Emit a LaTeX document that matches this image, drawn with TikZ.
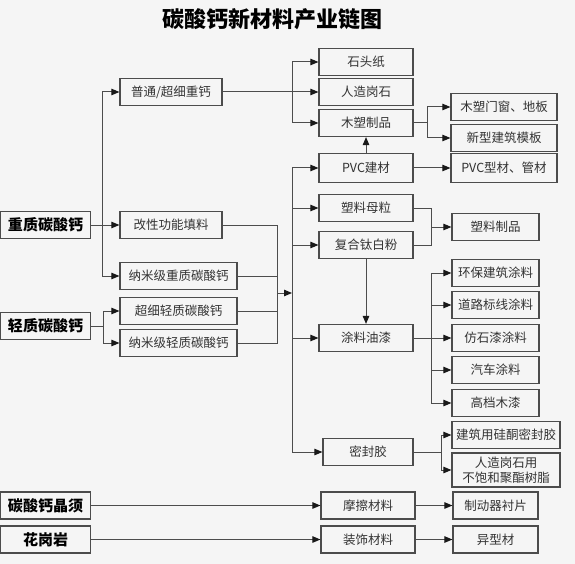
\documentclass[tikz,border=0pt]{standalone}
\usepackage{fontspec}
\setmainfont{Noto Sans CJK SC}
\usepackage{tikz}
\usetikzlibrary{arrows.meta}

\begin{document}
\begin{tikzpicture}[>={Triangle[length=8pt,width=6.5pt,color=black!90]},x=1pt,y=-1pt,line width=1pt,draw=black!70]
  \tikzstyle{item}=[draw=black!70,text=black!80,line width=1.2pt,minimum height=27pt,
                    inner sep=0pt,font=\fontsize{12.5}{15}\selectfont]
  \tikzstyle{source}=[item,text=black,minimum width=90pt,font=\fontsize{15}{17}\selectfont\bfseries]
  \tikzstyle{line}=[draw=black!70,line width=1pt]

  \fill[black!4] (0,0) rectangle (575,564);
  \useasboundingbox (0,0) rectangle (575,564);

  \node[font=\fontsize{22}{24}\selectfont\bfseries] (title) at (272,19) {碳酸钙新材料产业链图};

  % raw materials
  \node[source] (heavy)   at (45.5,225)   {重质碳酸钙};
  \node[source] (light)   at (45.5,326)   {轻质碳酸钙};
  \node[source] (whisker) at (45.5,505.5) {碳酸钙晶须};
  \node[source] (granite) at (45.5,539.5) {花岗岩};

  % grades
  \node[item,minimum width=102pt] (ordinary)   at (171,92)    {普通/超细重钙};
  \node[item,minimum width=102pt] (modified)   at (171,225)   {改性功能填料};
  \node[item,minimum width=117pt] (nanoheavy)  at (178.5,276) {纳米级重质碳酸钙};
  \node[item,minimum width=117pt] (ultralight) at (178.5,311) {超细轻质碳酸钙};
  \node[item,minimum width=117pt] (nanolight)  at (178.5,343) {纳米级轻质碳酸钙};

  % materials
  \node[item,minimum width=94pt] (paper)       at (366,62)  {石头纸};
  \node[item,minimum width=94pt] (stone)       at (366,92)  {人造岗石};
  \node[item,minimum width=94pt] (wpc)         at (366,123) {木塑制品};
  \node[item,minimum width=94pt,minimum height=29pt] (pvc) at (366,168) {PVC建材};
  \node[item,minimum width=94pt] (masterbatch) at (366,208) {塑料母粒};
  \node[item,minimum width=94pt] (titanium)    at (366,245) {复合钛白粉};
  \node[item,minimum width=94pt] (paint)       at (366,338) {涂料油漆};
  \node[item,minimum width=90pt] (sealant)     at (368,452) {密封胶};
  \node[item,minimum width=94pt] (friction)    at (368,505.5) {摩擦材料};
  \node[item,minimum width=94pt] (decor)       at (368,539.5) {装饰材料};

  % products
  \node[item,minimum width=106pt] (doors)       at (504,107) {木塑门窗、地板};
  \node[item,minimum width=106pt] (formwork)    at (504,138) {新型建筑模板};
  \node[item,minimum width=106pt,minimum height=29pt] (profiles) at (504,168) {PVC型材、管材};
  \node[item,minimum width=87pt]  (plastics)    at (495.5,227) {塑料制品};
  \node[item,minimum width=87pt]  (ecopaint)    at (495.5,273) {环保建筑涂料};
  \node[item,minimum width=87pt]  (roadpaint)   at (495.5,305) {道路标线涂料};
  \node[item,minimum width=87pt]  (stonepaint)  at (495.5,338) {仿石漆涂料};
  \node[item,minimum width=87pt]  (carpaint)    at (495.5,370) {汽车涂料};
  \node[item,minimum width=87pt]  (woodlacquer) at (495.5,403) {高档木漆};
  \node[item,minimum width=108pt] (silicone)    at (506,435) {建筑用硅酮密封胶};
  \node[item,minimum width=108pt,minimum height=34pt,align=center] (resin) at (506,470)
       {人造岗石用\\不饱和聚酯树脂};
  \node[item,minimum width=85pt]  (brakepad)    at (495.5,505.5) {制动器衬片};
  \node[item,minimum width=85pt]  (shaped)      at (495.5,539.5) {异型材};

  % junctions
  \coordinate (jh) at (102,225);
  \coordinate (jl) at (103,326);
  \coordinate (jc) at (277,293);
  \coordinate (ja) at (292,92);
  \coordinate (jb) at (292,293);
  \coordinate (jw) at (427,123);
  \coordinate (jm) at (431,227);
  \coordinate (jp) at (431,338);
  \coordinate (js) at (441,452);

  \path[line,->] (heavy)    edge (modified)
                 (ordinary) edge (stone)
                 (pvc)      edge (profiles)
                 (pvc)      edge (wpc)
                 (titanium) edge (paint)
                 (whisker)  edge (friction)
                 (friction) edge (brakepad)
                 (granite)  edge (decor)
                 (decor)    edge (shaped);

  \draw[line,->] (jh) |- (ordinary);
  \draw[line,->] (jh) |- (nanoheavy);
  \draw[line] (light) -- (jl);
  \draw[line,->] (jl) |- (ultralight);
  \draw[line,->] (jl) |- (nanolight);

  \draw[line] (modified) -| (jc) (nanoheavy) -| (jc)
              (ultralight) -| (jc) (nanolight) -| (jc);
  \draw[line,->] (jc) -- (jb);

  \draw[line,->] (ja) |- (paper);
  \draw[line,->] (ja) |- (wpc);

  \foreach \t in {pvc,masterbatch,titanium,paint,sealant}
    \draw[line,->] (jb) |- (\t);

  \draw[line] (wpc) -- (jw);
  \draw[line,->] (jw) |- (doors);
  \draw[line,->] (jw) |- (formwork);

  \draw[line] (masterbatch) -| (jm) (titanium) -| (jm);
  \draw[line,->] (jm) -- (plastics);

  \draw[line] (paint) -- (jp);
  \foreach \t in {ecopaint,roadpaint,stonepaint,carpaint,woodlacquer}
    \draw[line,->] (jp) |- (\t);

  \draw[line] (sealant) -- (js);
  \draw[line,->] (js) |- (silicone);
  \draw[line,->] (js) |- (resin);
\end{tikzpicture}
\end{document}
